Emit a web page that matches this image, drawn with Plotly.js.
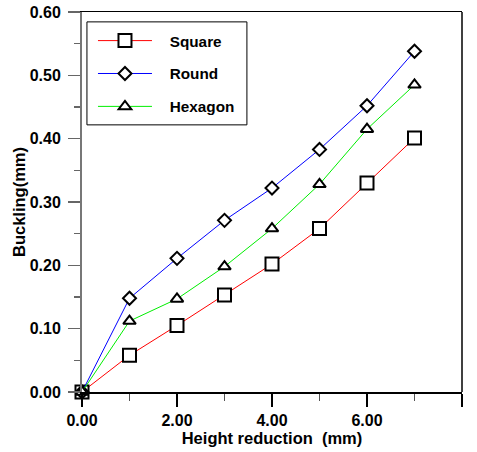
<!DOCTYPE html>
<html>
<head>
<meta charset="utf-8">
<script src="https://cdn.plot.ly/plotly-3.0.1.min.js"></script>
<style>body{margin:0;padding:0;background:#fff;}#chart{width:477px;height:452px;}</style>
</head>
<body>
<div id="chart"></div>
<script>
const heightReduction = [0, 1, 2, 3, 4, 5, 6, 7];
const squareBuckling = [0, 0.058, 0.105, 0.153, 0.202, 0.258, 0.330, 0.401];
const roundBuckling = [0, 0.148, 0.211, 0.271, 0.322, 0.383, 0.452, 0.538];
const hexagonBuckling = [0, 0.112, 0.147, 0.198, 0.258, 0.328, 0.415, 0.485];
const seriesNames = ['Square', 'Round', 'Hexagon'];
const xTickVals = [0, 2, 4, 6, 8];
const xTickText = ['0.00', '2.00', '4.00', '6.00', '8.00'];
const yTickVals = [0, 0.1, 0.2, 0.3, 0.4, 0.5, 0.6];
const yTickText = ['0.00', '0.10', '0.20', '0.30', '0.40', '0.50', '0.60'];

const FONT = 'Liberation Sans, Arial, sans-serif';
const PAD = '\u00a0\u00a0\u00a0';

function series(name, y, color, symbol, size) {
  return {
    x: heightReduction, y: y, name: PAD + name, type: 'scatter', mode: 'lines+markers',
    legendgroup: name,
    line: {color: color, width: 1},
    marker: {symbol: symbol, size: size, color: 'rgba(255,255,255,1)', line: {color: '#000', width: 2}},
    cliponaxis: false
  };
}

const data = [
  series(seriesNames[0], squareBuckling, '#ff0000', 'square', 13),
  series(seriesNames[1], roundBuckling, '#0000ff', 'diamond', 10),
  series(seriesNames[2], hexagonBuckling, '#00ee00', 'triangle-up', 11)
];

const layout = {
  width: 477, height: 452,
  margin: {l: 82, r: 15, t: 12, b: 60},
  paper_bgcolor: '#fff', plot_bgcolor: '#fff',
  font: {family: FONT, color: '#000', size: 16, weight: 'bold'},
  showlegend: true,
  legend: {
    x: 0.0289, y: 0.968, xanchor: 'left', yanchor: 'top',
    bgcolor: 'rgba(0,0,0,0)', borderwidth: 0,
    font: {family: FONT, size: 15.3, weight: 'bold', color: '#000'},
    tracegroupgap: 10, itemwidth: 54
  },
  xaxis: {
    range: [0, 8], tickvals: xTickVals, ticktext: xTickText,
    showgrid: false, zeroline: false,
    showline: true, linecolor: '#000', linewidth: 1.5, mirror: true,
    ticks: 'outside', ticklen: 13, tickwidth: 1.5, tickcolor: '#000',
    minor: {dtick: 1, ticks: 'outside', ticklen: 7, tickwidth: 1.5, tickcolor: '#555'},
    tickfont: {family: FONT, size: 16, weight: 'bold'},
    title: {text: 'Height reduction\u00a0 (mm)', font: {family: FONT, size: 16.5, weight: 'bold'}, standoff: 4}
  },
  yaxis: {
    range: [0, 0.6], tickvals: yTickVals, ticktext: yTickText,
    showgrid: false, zeroline: false,
    showline: true, linecolor: '#777', linewidth: 2,
    ticks: 'outside', ticklen: 12, tickwidth: 1.5, tickcolor: '#666',
    minor: {dtick: 0.05, ticks: 'outside', ticklen: 6, tickwidth: 1.5, tickcolor: '#666'},
    tickfont: {family: FONT, size: 16, weight: 'bold'},
    ticklabelstandoff: 4,
    title: {text: 'Buckling(mm)', font: {family: FONT, size: 16.5, weight: 'bold'}, standoff: 0}
  },
  shapes: [
    {type: 'line', xref: 'paper', yref: 'paper', x0: 1, x1: 1, y0: 0, y1: 1, line: {color: '#000', width: 1.5}},
    {type: 'rect', xref: 'paper', yref: 'paper', x0: 0.013, x1: 0.434, y0: 0.703, y1: 0.974,
     layer: 'above', fillcolor: '#fff', line: {color: '#000', width: 1}}
  ]
};

Plotly.newPlot('chart', data, layout, {displayModeBar: false, staticPlot: true});
</script>
</body>
</html>
